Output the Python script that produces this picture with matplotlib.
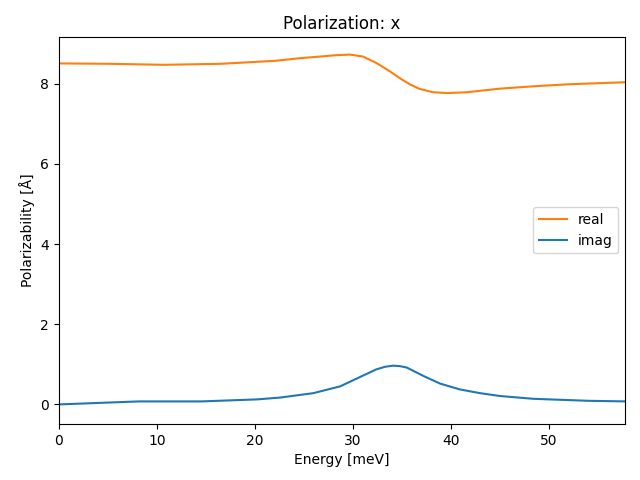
import matplotlib
matplotlib.use("Agg")
import matplotlib.pyplot as plt

# values
energy_real = [0.0, 5.2, 10.8, 16.5, 22.1, 24.6, 26.6, 28.3, 29.7, 31.05, 32.4,
               33.8, 34.8, 35.8, 36.8, 38.2, 39.6, 41.6, 45.0, 48.5, 52.1, 57.8]
real = [8.51, 8.50, 8.475, 8.50, 8.575, 8.64, 8.68, 8.715, 8.73, 8.68, 8.52,
        8.31, 8.14, 7.99, 7.875, 7.79, 7.77, 7.79, 7.88, 7.94, 7.99, 8.04]

energy_imag = [0.0, 3.3, 8.2, 14.6, 20.2, 22.55, 25.95, 28.7, 30.7, 32.4, 33.3,
               34.1, 34.8, 35.5, 37.2, 38.9, 40.9, 43.0, 45.0, 48.4, 54.0, 57.8]
imag = [0.0, 0.03, 0.075, 0.075, 0.125, 0.17, 0.28, 0.45, 0.68, 0.875, 0.94,
        0.967, 0.955, 0.92, 0.71, 0.52, 0.375, 0.28, 0.21, 0.14, 0.09, 0.075]

fig, ax = plt.subplots(figsize=(6.4, 4.8), dpi=100)
ax.plot(energy_real, real, color="tab:orange", label="real")
ax.plot(energy_imag, imag, color="tab:blue", label="imag")
ax.set_xlim(0, 57.8)
ax.set_ylim(-0.485, 9.17)
ax.set_title("Polarization: x")
ax.set_xlabel("Energy [meV]")
ax.set_ylabel("Polarizability [Å]")
ax.legend(loc="center right")
fig.subplots_adjust(left=0.092, right=0.977, top=0.923, bottom=0.117)
plt.savefig("out.png", dpi=100)
plt.close()
